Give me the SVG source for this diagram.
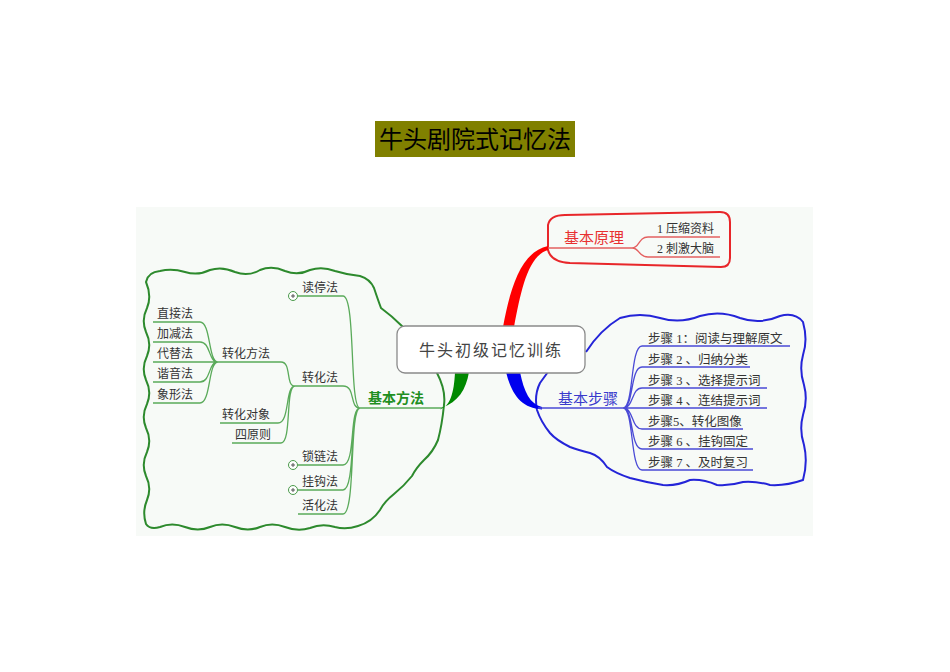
<svg xmlns="http://www.w3.org/2000/svg" width="950" height="672" viewBox="0 0 950 672">
<style>
text{font-family:"Liberation Serif","Noto Sans CJK SC",serif;}
.leaf{font-size:12px;fill:#333;}
.step{font-size:12.5px;fill:#333;}
.gl{fill:none;stroke:#5aaa5a;stroke-width:1.3;}
.rl{fill:none;stroke:#e46060;stroke-width:1.3;}
.bl{fill:none;stroke:#4a4ad6;stroke-width:1.3;}
.plus{fill:#fff;stroke:#4a9a4a;stroke-width:1;}
</style>
<rect x="0" y="0" width="950" height="672" fill="#fff"/>
<rect x="136" y="207" width="677" height="329" fill="#f7faf7"/>
<g id="title">
<rect x="375" y="121" width="200" height="36" fill="#808000"/>
<text x="475" y="148" text-anchor="middle" style="font-family:'Noto Sans CJK SC',sans-serif;font-size:24px;fill:#000">牛头剧院式记忆法</text>
</g>
<g id="connectors">
<path d="M146 282 Q148 272 160 271 Q172 268 185 272 Q198 276 210 270 Q222 266 235 272 Q248 277 260 270 Q272 265 285 271 Q298 276 310 270 Q322 266 335 271 Q348 275 360 276 Q370 279 374 288 Q378 300 381 308 Q392 316 403 327 L437 373 Q446 390 444 405 Q442 425 438 440 Q433 452 424 460 Q416 468 412 476 Q404 486 394 494 Q384 502 380 510 Q372 522 358 526 Q346 530 335 527 Q322 523 310 528 Q298 532 285 527 Q272 522 260 527 Q248 532 235 527 Q222 522 210 527 Q198 532 185 527 Q172 522 160 527 Q150 530 146 524 Q142 512 147 500 Q152 488 146 476 Q141 464 147 452 Q152 440 146 428 Q141 416 147 404 Q152 392 146 380 Q141 368 147 356 Q152 344 146 332 Q141 320 147 308 Q152 296 146 282 Z" fill="none" stroke="#2d8a2d" stroke-width="2"/>
<path d="M586 352 Q600 330 620 318 Q640 312 660 318 Q680 324 700 316 Q720 310 740 318 Q760 325 780 316 Q795 312 803 322 Q808 340 803 355 Q799 370 804 385 Q808 400 803 415 Q799 430 804 445 Q808 462 803 480 Q786 486 770 485 Q756 481 743 482 Q730 486 717 485 Q703 479 690 480 Q677 486 663 485 Q645 482 630 478 Q615 473 607 467 Q600 456 590 453 Q578 450 570 447 Q556 440 550 433 Q541 422 537 410 Q534 395 540 383 Q545 376 548 372" fill="none" stroke="#2424d8" stroke-width="2"/>
<path d="M548 225 Q550 215 565 215 L720 212 Q730 212 730 222 L730 258 Q730 267 721 267 L570 263 Q551 262 548 250 Z" fill="none" stroke="#e8262a" stroke-width="2"/>
<path d="M503 327 C510 290 520 252 548 246 L548 250 C528 256 521 290 514 327 Z" fill="#ff0000"/>
<path d="M506 372 C512 396 522 408 542 409.5 L542 407 C530 404 524 392 520 372 Z" fill="#0000ee"/>
<path d="M455 372 C454 394 450 406 440 409.5 L442 407.5 C458 402 466 390 469 372 Z" fill="#008800"/>
<path class="rl" d="M548 248 H632 C640 248 638 237 648 237 H720 M632 248 C640 248 638 257 648 257 H720"/>
<path class="bl" d="M538 408 H623"/>
<path class="bl" d="M623 408 C634 408 630 346 642 346 H790 M623 408 C634 408 630 367 642 367 H750 M623 408 C634 408 631 388 642 388 H767 M623 408 H767 M623 408 C634 408 631 429 642 429 H743 M623 408 C634 408 630 449 642 449 H753 M623 408 C634 408 630 470 642 470 H753"/>
<path class="gl" d="M442 408 H360"/>
<path class="gl" d="M360 408 C349 408 356 296 343 296 H298 M360 408 C349 408 356 386 343 386 H295 M360 408 C349 408 356 465 343 465 H298 M360 408 C349 408 356 490 343 490 H298 M360 408 C349 408 356 514 343 514 H298"/>
<path class="gl" d="M295 386 C285 386 292 362 281 362 H218 M295 386 C285 386 290 423 278 423 H220 M295 386 C285 386 292 443 281 443 H232"/>
<path class="gl" d="M218 362 C208 362 211 322 200 322 H153 M218 362 C208 362 211 342 200 342 H153 M218 362 H153 M218 362 C208 362 211 382 200 382 H153 M218 362 C208 362 211 403 200 403 H153"/>
</g>
<g id="center">
<rect x="397" y="326" width="188" height="47" rx="8" fill="#fff" stroke="#8a8a8a" stroke-width="1.3"/>
<text x="491" y="356" text-anchor="middle" style="font-family:'Noto Sans CJK SC',sans-serif;font-size:16px;fill:#444;letter-spacing:2px">牛头初级记忆训练</text>
</g>
<g id="n-yuanli">
<text x="564" y="243" style="font-family:'Noto Sans CJK SC',sans-serif;font-size:15px;fill:#e83030">基本原理</text>
</g>
<g id="n-yasuo"><text class="leaf" x="657" y="233">1 压缩资料</text></g>
<g id="n-ciji"><text class="leaf" x="657" y="253">2 刺激大脑</text></g>
<g id="n-buzhou">
<text x="558" y="404" style="font-family:'Noto Sans CJK SC',sans-serif;font-size:15px;fill:#3a3acc">基本步骤</text>
</g>
<g id="s1"><text class="step" x="648" y="343">步骤 1：阅读与理解原文</text></g>
<g id="s2"><text class="step" x="648" y="364">步骤 2 、归纳分类</text></g>
<g id="s3"><text class="step" x="648" y="385">步骤 3 、选择提示词</text></g>
<g id="s4"><text class="step" x="648" y="405">步骤 4 、连结提示词</text></g>
<g id="s5"><text class="step" x="648" y="426">步骤5、转化图像</text></g>
<g id="s6"><text class="step" x="648" y="446">步骤 6 、挂钩固定</text></g>
<g id="s7"><text class="step" x="648" y="467">步骤 7 、及时复习</text></g>
<g id="n-fangfa">
<text x="368" y="403" style="font-family:'Noto Sans CJK SC',sans-serif;font-size:14px;font-weight:bold;fill:#1f8f1f">基本方法</text>
</g>
<g id="n-dutingfa">
<circle class="plus" cx="293" cy="296" r="4.5"/><path d="M291 296 H295 M293 294 V298" stroke="#333" stroke-width="0.8"/>
<text class="leaf" x="302" y="292">读停法</text>
</g>
<g id="n-zhuanhuafa"><text class="leaf" x="302" y="382">转化法</text></g>
<g id="n-suolianfa">
<circle class="plus" cx="293" cy="465" r="4.5"/><path d="M291 465 H295 M293 463 V467" stroke="#333" stroke-width="0.8"/>
<text class="leaf" x="302" y="461">锁链法</text>
</g>
<g id="n-guagoufa">
<circle class="plus" cx="293" cy="490" r="4.5"/><path d="M291 490 H295 M293 488 V492" stroke="#333" stroke-width="0.8"/>
<text class="leaf" x="302" y="486">挂钩法</text>
</g>
<g id="n-huohuafa"><text class="leaf" x="302" y="510">活化法</text></g>
<g id="n-zhuanhuafangfa"><text class="leaf" x="222" y="358">转化方法</text></g>
<g id="n-zhuanhuaduixiang"><text class="leaf" x="222" y="419">转化对象</text></g>
<g id="n-siyuanze"><text class="leaf" x="235" y="439">四原则</text></g>
<g id="n-zhijie"><text class="leaf" x="157" y="318">直接法</text></g>
<g id="n-jiajian"><text class="leaf" x="157" y="338">加减法</text></g>
<g id="n-daiti"><text class="leaf" x="157" y="358">代替法</text></g>
<g id="n-xieyin"><text class="leaf" x="157" y="378">谐音法</text></g>
<g id="n-xiangxing"><text class="leaf" x="157" y="399">象形法</text></g>
</svg>
